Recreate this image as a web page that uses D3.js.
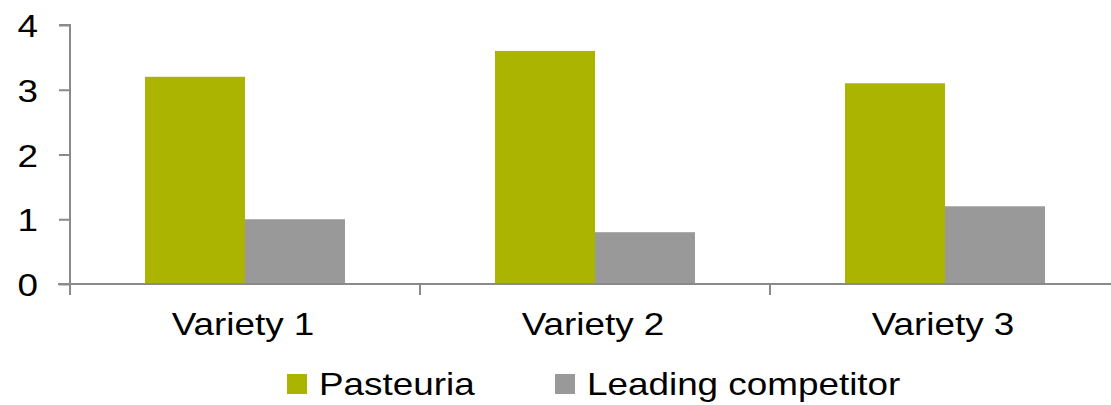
<!DOCTYPE html>
<html>
<head>
<meta charset="utf-8">
<script src="https://cdn.jsdelivr.net/npm/d3@7"></script>
<style>
  html, body { margin: 0; padding: 0; background: #fff; }
  svg { display: block; }
  text { font-family: "Liberation Sans", Arial, sans-serif; fill: #000; }
</style>
</head>
<body>
<svg id="chart" width="1111" height="405"></svg>
<script>
// Chart data
const categories = ["Variety 1", "Variety 2", "Variety 3"];
const seriesNames = ["Pasteuria", "Leading competitor"];
const pasteuria = [3.2, 3.6, 3.1];
const competitor = [1.0, 0.8, 1.2];
const yTicks = [0, 1, 2, 3, 4];
const colors = ["#abb400", "#999999"];

const values = [pasteuria, competitor];
const svg = d3.select("#chart");
const axisColor = "#8a8a8a";
const fontSize = 31.5;
const stretch = 1.17; // horizontally widened lettering

const x = d3.scaleBand().domain(categories).range([70, 1120]).paddingInner(0).paddingOuter(0);
const xs = d3.scaleBand().domain(seriesNames).range([0, x.bandwidth()]).paddingInner(0).paddingOuter(0.75);
const y = d3.scaleLinear().domain([0, 4]).range([284, 25]);

// Bars
seriesNames.forEach((s, si) => {
  svg.append("g").selectAll("rect")
    .data(categories)
    .join("rect")
    .attr("x", c => x(c) + xs(s))
    .attr("width", xs.bandwidth())
    .attr("y", (c, i) => y(values[si][i]))
    .attr("height", (c, i) => y(0) - y(values[si][i]))
    .attr("fill", colors[si]);
});

// Y axis
const yAxis = svg.append("g")
  .attr("transform", "translate(70,0)")
  .call(d3.axisLeft(y).tickValues(yTicks).tickSize(11).tickFormat(d3.format("d")));
yAxis.select(".domain").attr("stroke", axisColor).attr("stroke-width", 2)
  .attr("d", `M-11,${y(4)}H0V${y(0) + 11}`);
yAxis.selectAll(".tick line").attr("stroke", axisColor).attr("stroke-width", 2);
yAxis.selectAll(".tick text").remove();
yAxis.selectAll(".tick").append("text")
  .attr("text-anchor", "end")
  .attr("font-size", fontSize)
  .attr("transform", `translate(-32,11.5) scale(${stretch},1)`)
  .text(d => d3.format("d")(d));

// X axis line and category boundary ticks
const xAxis = svg.append("g");
xAxis.append("line")
  .attr("x1", 58).attr("x2", 1111)
  .attr("y1", y(0)).attr("y2", y(0))
  .attr("stroke", axisColor).attr("stroke-width", 2);
const bounds = categories.map(c => x(c)).concat([x.range()[1]]);
xAxis.selectAll("line.tick")
  .data(bounds.slice(1))
  .join("line")
  .attr("class", "tick")
  .attr("x1", d => d).attr("x2", d => d)
  .attr("y1", y(0)).attr("y2", y(0) + 11)
  .attr("stroke", axisColor).attr("stroke-width", 2);

// Category labels
svg.append("g").selectAll("text")
  .data(categories)
  .join("text")
  .attr("text-anchor", "middle")
  .attr("font-size", fontSize)
  .attr("transform", c => `translate(${x(c) + x.bandwidth() / 2 - 2},335) scale(${stretch},1)`)
  .text(c => c);

// Legend
const legendX = [287, 555];
const legend = svg.append("g").selectAll("g")
  .data(seriesNames)
  .join("g")
  .attr("transform", (s, i) => `translate(${legendX[i]},0)`);
legend.append("rect")
  .attr("x", 0).attr("y", 374)
  .attr("width", 20).attr("height", 20)
  .attr("fill", (s, i) => colors[i]);
legend.append("text")
  .attr("font-size", fontSize)
  .attr("transform", `translate(32,394.5) scale(${stretch},1)`)
  .text(s => s);
</script>
</body>
</html>
